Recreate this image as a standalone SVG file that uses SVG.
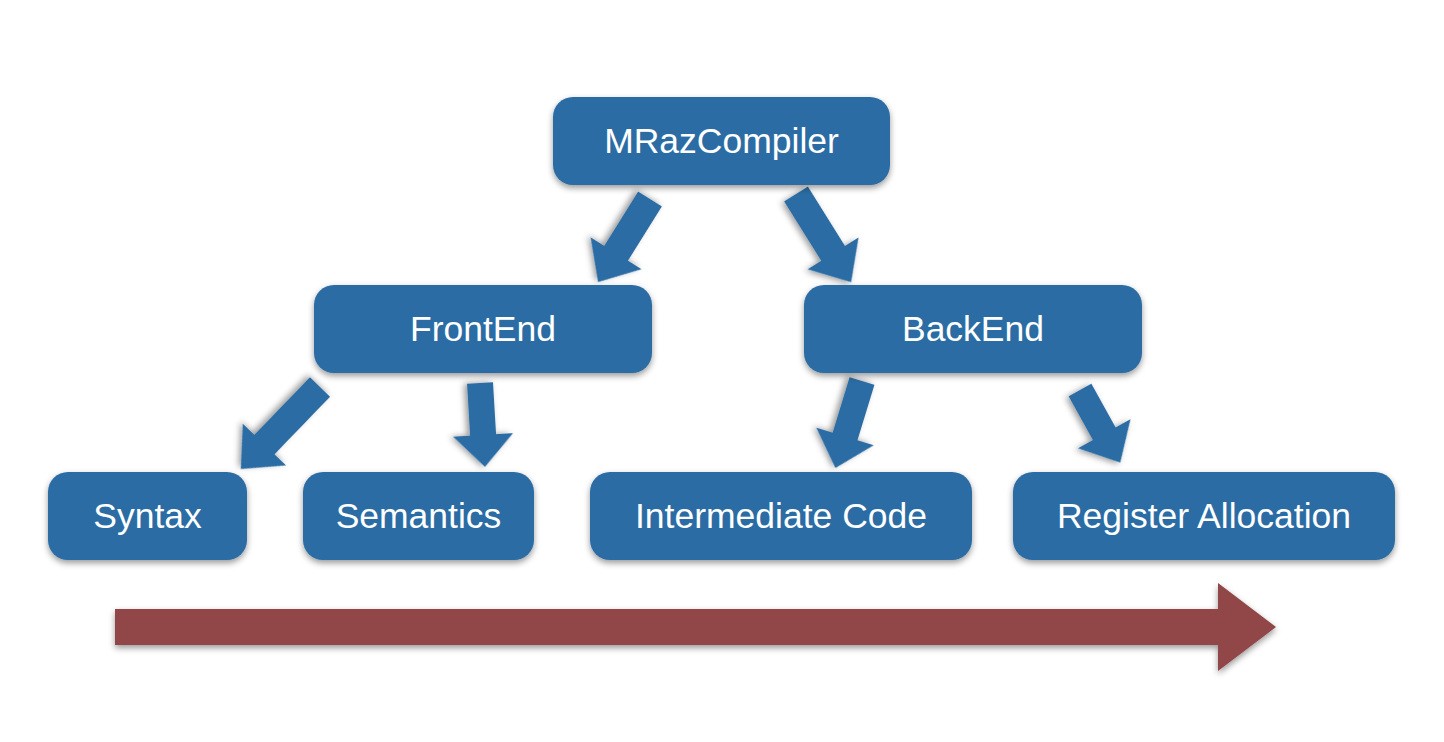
<svg xmlns="http://www.w3.org/2000/svg" width="1444" height="742" viewBox="0 0 1444 742">
<defs>
<filter id="sh" x="-10%" y="-20%" width="120%" height="150%">
<feDropShadow dx="0" dy="3" stdDeviation="3" flood-color="#000" flood-opacity="0.4"/>
</filter>
<style>
.box{fill:#2b6ca3;filter:url(#sh)}
.lbl{fill:#ffffff;font-family:"Liberation Sans",Arial,sans-serif;font-size:35.5px;text-anchor:middle}
.arr{fill:#2b6ca3;filter:url(#sh)}
.flow{fill:#914646;filter:url(#sh)}
</style>
</defs>
<rect width="1444" height="742" fill="#ffffff"/>
<g id="connectors">
<polygon class="arr" transform="translate(650,199) rotate(122)" points="0,-14 64,-14 64,-30 98,0 64,30 64,14 0,14"/>
<polygon class="arr" transform="translate(796,194) rotate(58)" points="0,-14 70,-14 70,-30 104,0 70,30 70,14 0,14"/>
<polygon class="arr" transform="translate(320,387) rotate(134)" points="0,-14 80,-14 80,-30 114,0 80,30 80,14 0,14"/>
<polygon class="arr" transform="translate(480,383) rotate(86.6)" points="0,-13 52,-13 52,-30 84,0 52,30 52,13 0,13"/>
<polygon class="arr" transform="translate(862,381) rotate(107)" points="0,-13 58,-13 58,-30 91,0 58,30 58,13 0,13"/>
<polygon class="arr" transform="translate(1080,390) rotate(61)" points="0,-13 50,-13 50,-30 83,0 50,30 50,13 0,13"/>
</g>
<g id="n-mraz"><rect class="box" x="553" y="97" width="337" height="88" rx="20"/><text class="lbl" x="721.5" y="153">MRazCompiler</text></g>
<g id="n-frontend"><rect class="box" x="314" y="285" width="338" height="88" rx="20"/><text class="lbl" x="483" y="341">FrontEnd</text></g>
<g id="n-backend"><rect class="box" x="804" y="285" width="338" height="88" rx="20"/><text class="lbl" x="973" y="341">BackEnd</text></g>
<g id="n-syntax"><rect class="box" x="48" y="472" width="199" height="88" rx="20"/><text class="lbl" x="147.5" y="528">Syntax</text></g>
<g id="n-semantics"><rect class="box" x="303" y="472" width="231" height="88" rx="20"/><text class="lbl" x="418.5" y="528">Semantics</text></g>
<g id="n-intermediate"><rect class="box" x="590" y="472" width="382" height="88" rx="20"/><text class="lbl" x="781" y="528">Intermediate Code</text></g>
<g id="n-register"><rect class="box" x="1013" y="472" width="382" height="88" rx="20"/><text class="lbl" x="1204" y="528">Register Allocation</text></g>
<g id="flow-arrow"><polygon class="flow" points="115,609 1218,609 1218,583 1276,627 1218,671 1218,645 115,645"/></g>
</svg>
